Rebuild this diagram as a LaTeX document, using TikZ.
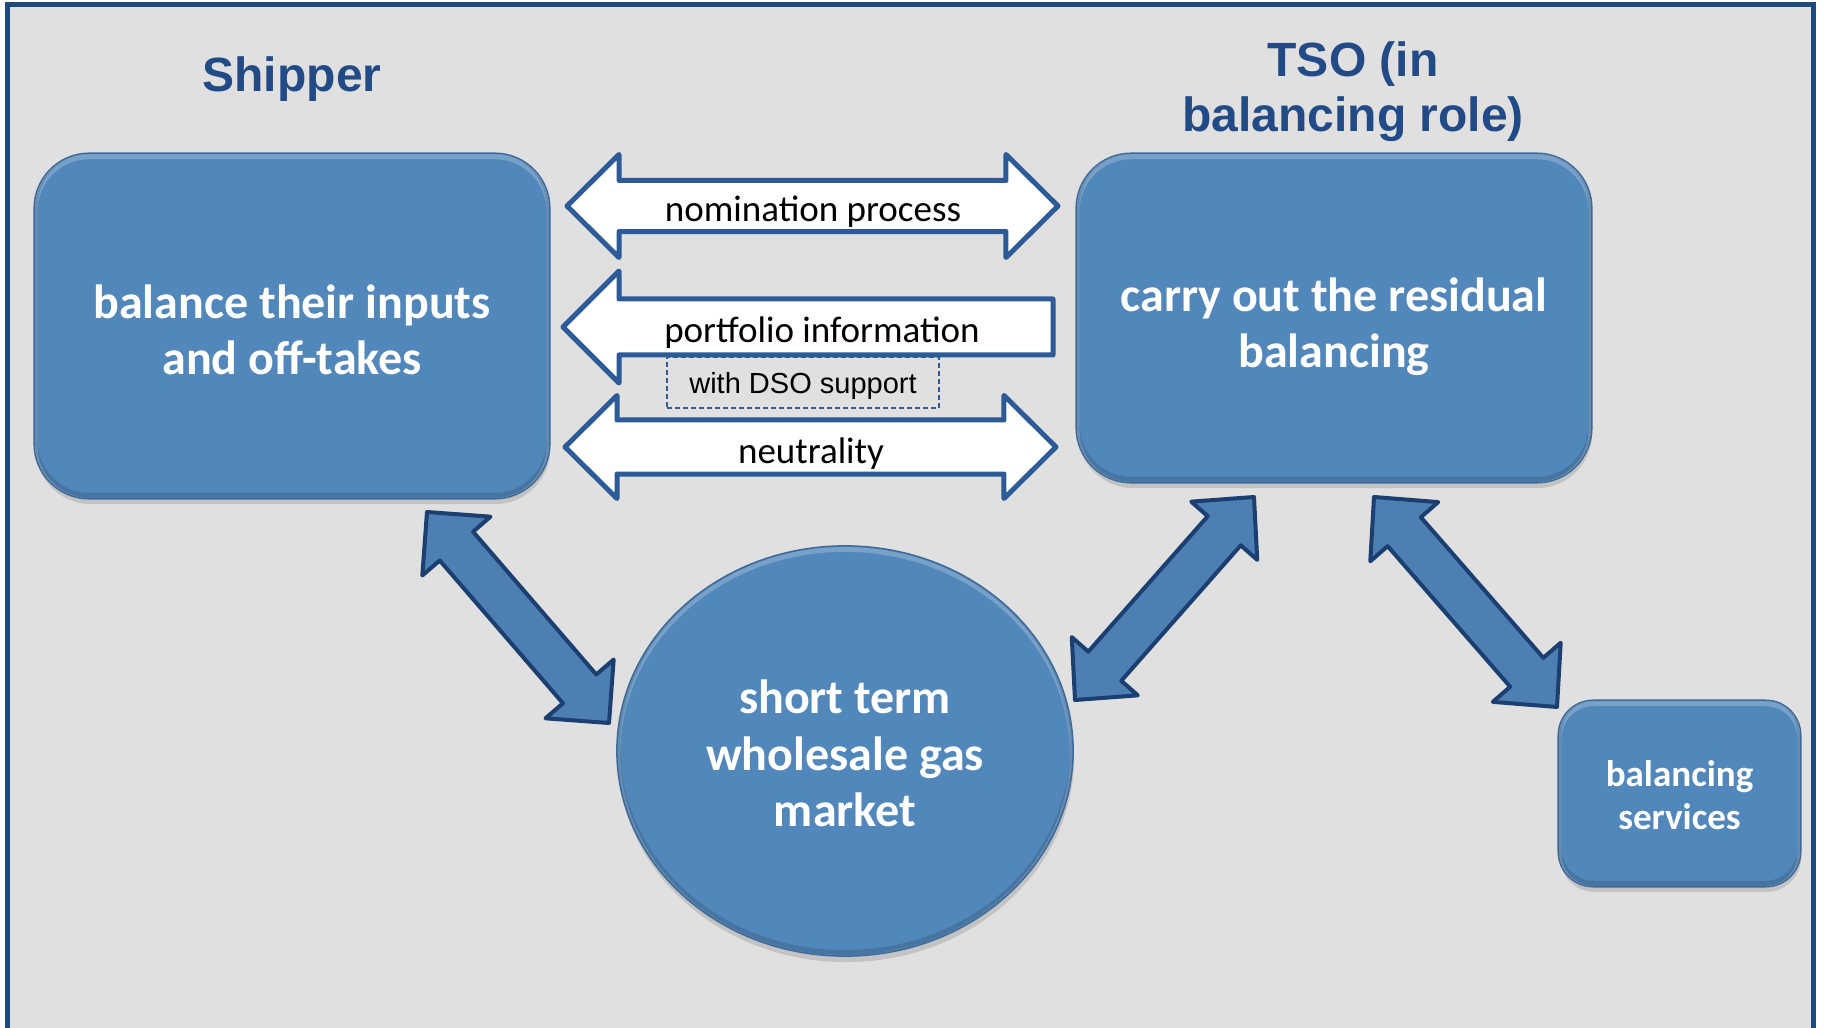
\documentclass[tikz,border=0pt]{standalone}
\usepackage{fontspec}
\usetikzlibrary{calc,shapes.geometric,shadows}
\newfontfamily\carlito{Carlito}
\newfontfamily\arialf{Liberation Sans}
\definecolor{bggrey}{HTML}{E0E0E0}
\definecolor{framecol}{HTML}{1F4A7E}
\definecolor{titlecol}{HTML}{214A87}
\definecolor{boxfill}{HTML}{5187BA}
\definecolor{boxline}{HTML}{3C6A9C}
\definecolor{arrfill}{HTML}{4D7FB3}
\definecolor{arrline}{HTML}{1B3F70}
\definecolor{warrline}{HTML}{2C5B98}
% double block arrow between two named tips: #3 head length, #4 head half width, #5 shaft half width, #6 style
\newcommand{\blockdbl}[6]{%
  \coordinate (bdHa) at ($(#1)!#3!(#2)$);
  \coordinate (bdHb) at ($(#2)!#3!(#1)$);
  \draw[#6] (#1) -- ($(bdHa)!#4!90:(#2)$) -- ($(bdHa)!#5!90:(#2)$)
    -- ($(bdHb)!#5!-90:(#1)$) -- ($(bdHb)!#4!-90:(#1)$) -- (#2)
    -- ($(bdHb)!#4!90:(#1)$) -- ($(bdHb)!#5!90:(#1)$)
    -- ($(bdHa)!#5!-90:(#2)$) -- ($(bdHa)!#4!-90:(#2)$) -- cycle;
}
% bevel on a rounded box node: #1 node name, #2 corner radius
\newcommand{\bevelbox}[2]{%
  \begin{scope}
    \clip[rounded corners=#2] (#1.north west) rectangle (#1.south east);
    \draw[white, opacity=0.22, line width=0.07cm, rounded corners=#2]
      ([yshift=-0.025cm]#1.north west) rectangle ([yshift=-0.025cm]#1.south east);
    \draw[black, opacity=0.13, line width=0.07cm, rounded corners=#2]
      ([yshift=0.025cm]#1.north west) rectangle ([yshift=0.025cm]#1.south east);
  \end{scope}
  \draw[boxline, line width=0.015cm, rounded corners=#2] (#1.north west) rectangle (#1.south east);
}
\begin{document}
\begin{tikzpicture}[x=0.01cm,y=-0.01cm,
  bluebox/.style={fill=boxfill,
    drop shadow={opacity=0.3, shadow xshift=0.01cm, shadow yshift=-0.06cm}},
  boxtext/.style={text=white, font=\carlito\bfseries\fontsize{13.66pt}{15.8pt}\selectfont, align=center, inner sep=0pt},
  smalltext/.style={text=white, font=\carlito\bfseries\fontsize{10.53pt}{12.23pt}\selectfont, align=center, inner sep=0pt},
  titletext/.style={text=titlecol, font=\arialf\bfseries\fontsize{13.66pt}{15.65pt}\selectfont, align=center, inner sep=0pt},
  arrowtext/.style={text=black, font=\carlito\fontsize{10.53pt}{12pt}\selectfont, inner sep=0pt, anchor=base},
  whitearrow/.style={draw=warrline, fill=white, line width=0.05cm, line join=round},
  bluearrow/.style={draw=arrline, fill=arrfill, line width=0.04cm, line join=round},
]
\useasboundingbox (0,0) rectangle (1824,1028);
\clip (0,0) rectangle (1824,1028);
\draw[framecol, line width=0.05cm, fill=bggrey] (7.5,5) rectangle (1813,1060);

% titles
\node[titletext, anchor=base] (shiptitle) at (292,92) {Shipper};
\node[titletext] (tsotitle) at (1353,91.5) {TSO (in\\balancing role)};

% boxes
\node[bluebox, rounded corners=0.55cm, minimum width=5.14cm, minimum height=3.44cm] (ship) at (292,326) {};
\bevelbox{ship}{0.55cm}
\node[bluebox, rounded corners=0.55cm, minimum width=5.14cm, minimum height=3.28cm] (tso) at (1334,318) {};
\bevelbox{tso}{0.55cm}
\node[bluebox, ellipse, minimum width=4.56cm, minimum height=4.10cm, inner sep=0pt] (mkt) at (845,751) {};
\begin{scope}
  \clip (mkt.center) ellipse (2.28cm and 2.05cm);
  \draw[white, opacity=0.22, line width=0.07cm] ([yshift=-0.025cm]mkt.center) ellipse (2.28cm and 2.05cm);
  \draw[black, opacity=0.13, line width=0.07cm] ([yshift=0.025cm]mkt.center) ellipse (2.28cm and 2.05cm);
\end{scope}
\draw[boxline, line width=0.015cm] (mkt.center) ellipse (2.28cm and 2.05cm);
\node[bluebox, rounded corners=0.35cm, minimum width=2.41cm, minimum height=1.85cm] (bal) at (1679.5,793.5) {};
\bevelbox{bal}{0.35cm}

\node[boxtext] (shiptext) at (292,330) {balance their inputs\\and off-takes};
\node[boxtext] (tsotext) at (1334,327) {carry out the residual\\balancing};
\node[boxtext, font=\carlito\bfseries\fontsize{13.66pt}{16.1pt}\selectfont] (mkttext) at (845,753.5) {short term\\wholesale gas\\market};
\node[smalltext] (baltext) at (1679.5,795) {balancing\\services};

% white horizontal arrows
\coordinate (nomL) at (567,206);
\coordinate (nomR) at (1058,206);
\blockdbl{nomL}{nomR}{0.52cm}{0.515cm}{0.255cm}{whitearrow}

\node[draw=warrline, dashed, dash pattern=on 0.05cm off 0.03cm, line width=0.017cm,
  minimum width=2.72cm, minimum height=0.51cm, inner sep=0pt,
  text height=0.72em, text depth=0.07em,
  font=\arialf\fontsize{8.25pt}{10pt}\selectfont] (dso) at (803,382.5) {with DSO support};

\coordinate (portL) at (563,327);
\draw[whitearrow] (portL) -- ++(56,-56) -- ++(0,28) -- ++(434,0) -- ++(0,56) -- ++(-434,0) -- ++(0,28) -- cycle;

\coordinate (neuL) at (565,447);
\coordinate (neuR) at (1056,447);
\blockdbl{neuL}{neuR}{0.52cm}{0.515cm}{0.27cm}{whitearrow}

\node[arrowtext] (nomtext) at (813,222) {nomination process};
\node[arrowtext] (porttext) at (822,343) {portfolio information};
\node[arrowtext] (neutext) at (811,464) {neutrality};

% blue diagonal arrows
\coordinate (aAs) at (427,512);
\coordinate (aAe) at (609,723);
\blockdbl{aAs}{aAe}{0.45cm}{0.45cm}{0.22cm}{bluearrow}
\coordinate (aBs) at (1075,700);
\coordinate (aBe) at (1254,497);
\blockdbl{aBs}{aBe}{0.45cm}{0.44cm}{0.22cm}{bluearrow}
\coordinate (aCs) at (1374,497);
\coordinate (aCe) at (1557,707);
\blockdbl{aCs}{aCe}{0.46cm}{0.45cm}{0.22cm}{bluearrow}
\end{tikzpicture}
\end{document}
